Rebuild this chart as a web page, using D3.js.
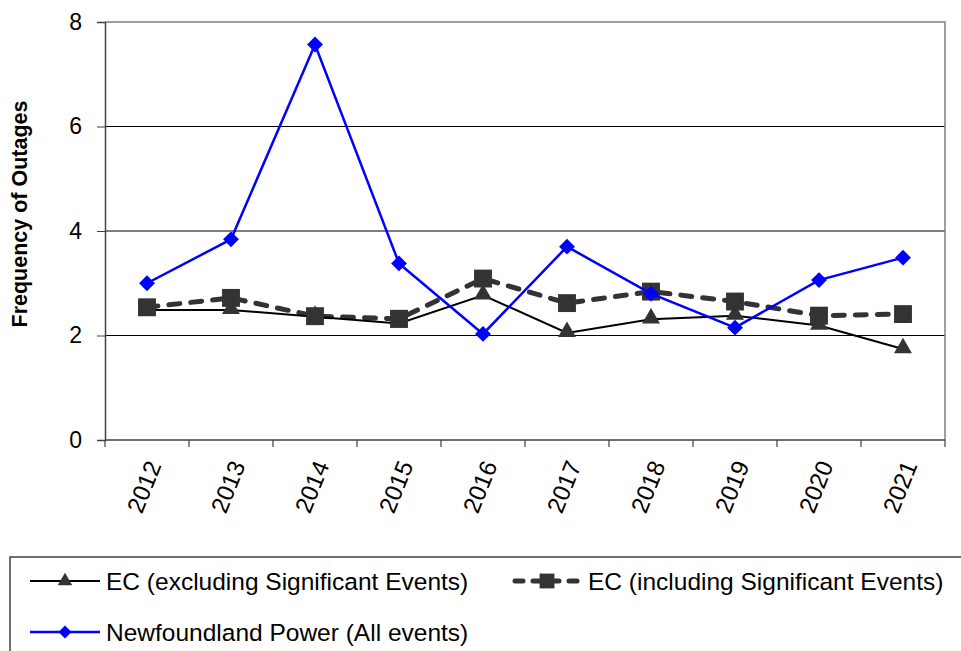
<!DOCTYPE html>
<html>
<head>
<meta charset="utf-8">
<script src="https://cdn.jsdelivr.net/npm/d3@7"></script>
<style>
  html, body { margin: 0; padding: 0; background: #fff; }
  svg { display: block; font-family: "Liberation Sans", Arial, sans-serif; }
</style>
</head>
<body>
<svg id="chart" width="961" height="651"></svg>
<script>
// Outage frequency by year
const years = ["2012","2013","2014","2015","2016","2017","2018","2019","2020","2021"];
const ecExcluding = [2.49, 2.49, 2.36, 2.23, 2.77, 2.05, 2.31, 2.38, 2.19, 1.74];
const ecIncluding = [2.54, 2.72, 2.37, 2.32, 3.09, 2.62, 2.84, 2.65, 2.38, 2.41];
const nfPower     = [3.00, 3.84, 7.57, 3.38, 2.03, 3.70, 2.80, 2.15, 3.06, 3.49];
const yTicks = [0, 2, 4, 6, 8];
const seriesNames = [
  "EC (excluding Significant Events)",
  "EC (including Significant Events)",
  "Newfoundland Power (All events)"
];

const svg = d3.select("#chart");
const m = { left: 105, right: 945, top: 22, bottom: 440 };

const x = d3.scaleBand().domain(years).range([m.left, m.right]);
const y = d3.scaleLinear().domain([0, 8]).range([m.bottom, m.top]);
const cx = d => x(d) + x.bandwidth() / 2;

// gridlines
svg.append("g").selectAll("line").data(yTicks.filter(t => t > 0 && t < 8)).join("line")
  .attr("x1", m.left).attr("x2", m.right)
  .attr("y1", d => y(d)).attr("y2", d => y(d))
  .attr("stroke", "#000").attr("stroke-width", 1);

// plot frame (top & right)
svg.append("path")
  .attr("d", `M${m.left},${m.top}H${m.right}V${m.bottom}`)
  .attr("fill", "none").attr("stroke", "#808080").attr("stroke-width", 1.5);

// y axis
const yAxis = svg.append("g").attr("transform", `translate(${m.left},0)`)
  .call(d3.axisLeft(y).tickValues(yTicks).tickSize(8).tickPadding(15).tickFormat(d3.format("d")));
yAxis.select(".domain").attr("stroke", "#404040").attr("stroke-width", 1.5);
yAxis.selectAll(".tick line").attr("stroke", "#404040");
yAxis.selectAll("text").attr("font-size", 23).attr("fill", "#000")
  .attr("font-family", "Liberation Sans, Arial, sans-serif");

// x axis: ticks at category boundaries
const xAxisG = svg.append("g").attr("transform", `translate(0,${m.bottom})`);
xAxisG.append("line").attr("x1", m.left).attr("x2", m.right)
  .attr("stroke", "#404040").attr("stroke-width", 1.5);
const bounds = years.map(d => x(d)).concat([m.right]);
xAxisG.selectAll(".tk").data(bounds).join("line").attr("class", "tk")
  .attr("x1", d => d).attr("x2", d => d).attr("y1", 0).attr("y2", 7)
  .attr("stroke", "#404040").attr("stroke-width", 1.2);
xAxisG.selectAll(".lbl").data(years).join("text").attr("class", "lbl")
  .attr("transform", d => `translate(${cx(d) + 7},${22}) rotate(-68)`)
  .attr("text-anchor", "end").attr("dy", "0.35em")
  .attr("font-size", 24).attr("fill", "#000")
  .text(d => d);

// y axis title
svg.append("text")
  .attr("transform", `translate(27,214) rotate(-90)`)
  .attr("text-anchor", "middle")
  .attr("font-size", 21.5).attr("font-weight", "bold")
  .text("Frequency of Outages");

const line = d3.line().x((d, i) => cx(years[i])).y(d => y(d));

// markers
const sym = {
  tri: d3.symbol().type(d3.symbolTriangle).size(140),
  sq: d3.symbol().type(d3.symbolSquare).size(320),
  dia: d3.symbol().type(d3.symbolDiamond2).size(160)
};

// EC including (dashed, squares)
svg.append("path").datum(ecIncluding).attr("d", line)
  .attr("fill", "none").attr("stroke", "#333").attr("stroke-width", 5)
  .attr("stroke-linecap", "round").attr("stroke-dasharray", "11,11");
// EC excluding (solid black, triangles)
svg.append("path").datum(ecExcluding).attr("d", line)
  .attr("fill", "none").attr("stroke", "#000").attr("stroke-width", 2);
svg.append("g").selectAll("path").data(ecExcluding).join("path")
  .attr("d", sym.tri)
  .attr("transform", (d, i) => `translate(${cx(years[i])},${y(d) - 1})`)
  .attr("fill", "#333");
svg.append("g").selectAll("path").data(ecIncluding).join("path")
  .attr("d", sym.sq)
  .attr("transform", (d, i) => `translate(${cx(years[i])},${y(d)})`)
  .attr("fill", "#333");
// Newfoundland Power (blue, diamonds)
svg.append("path").datum(nfPower).attr("d", line)
  .attr("fill", "none").attr("stroke", "#0000ff").attr("stroke-width", 2.5);
svg.append("g").selectAll("path").data(nfPower).join("path")
  .attr("d", sym.dia)
  .attr("transform", (d, i) => `translate(${cx(years[i])},${y(d)})`)
  .attr("fill", "#0000ff");

// legend
const lg = svg.append("g");
lg.append("path").attr("d", "M10,651V557H962")
  .attr("fill", "none").attr("stroke", "#404040").attr("stroke-width", 1.5);
const items = [
  { name: seriesNames[0], x: 30, y: 581, stroke: "#000", w: 2, dash: null, cap: "butt",
    s: d3.symbol().type(d3.symbolTriangle).size(90), fill: "#333" },
  { name: seriesNames[1], x: 512, y: 581, stroke: "#333", w: 5, dash: "8,10", cap: "round",
    s: d3.symbol().type(d3.symbolSquare).size(220), fill: "#333" },
  { name: seriesNames[2], x: 30, y: 632, stroke: "#0000ff", w: 2.5, dash: null, cap: "butt",
    s: d3.symbol().type(d3.symbolDiamond2).size(110), fill: "#0000ff" }
];
const it = lg.selectAll("g").data(items).join("g")
  .attr("transform", d => `translate(${d.x},${d.y})`);
it.append("line").attr("x1", d => d.cap === "round" ? 3 : 0).attr("x2", 70)
  .attr("stroke", d => d.stroke).attr("stroke-width", d => d.w)
  .attr("stroke-linecap", d => d.cap)
  .attr("stroke-dasharray", d => d.dash);
it.append("path").attr("d", d => d.s()).attr("fill", d => d.fill)
  .attr("transform", "translate(35,0)");
it.append("text").attr("x", 76).attr("dy", "0.36em")
  .attr("font-size", 24.5).attr("fill", "#000").text(d => d.name);
</script>
</body>
</html>
